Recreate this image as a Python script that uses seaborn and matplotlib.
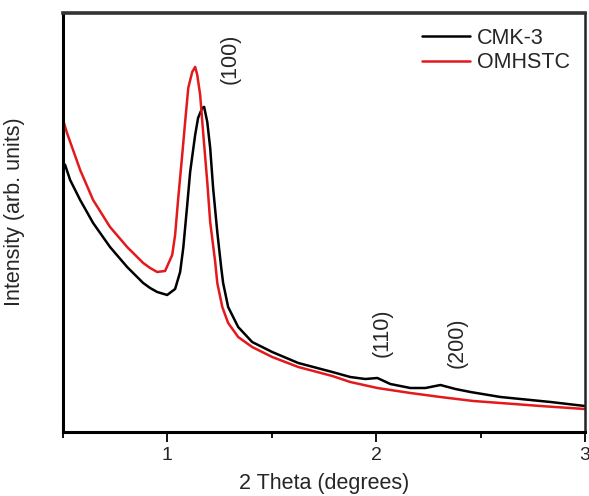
import numpy as np
import pandas as pd
import matplotlib
matplotlib.use("Agg")
import matplotlib.pyplot as plt
import seaborn as sns

# 2 Theta (degrees) and intensity (arb. units)
cmk3_x = [0.50, 0.510, 0.534, 0.582, 0.644, 0.725, 0.807, 0.884, 0.917, 0.951,
          0.999, 1.037, 1.061, 1.076, 1.095, 1.109, 1.133, 1.147, 1.167, 1.176,
          1.191, 1.205, 1.219, 1.239, 1.258, 1.267, 1.291, 1.339, 1.406, 1.502,
          1.627, 1.790, 1.876, 1.948, 2.006, 2.068, 2.164, 2.236, 2.308, 2.380,
          2.452, 2.596, 2.836, 3.0]
cmk3_y = [269, 267, 252, 232, 209, 185, 165, 149, 144, 140,
          137, 143, 160, 184, 227, 260, 297, 314, 324, 325,
          310, 284, 244, 200, 164, 149, 125, 105, 90, 80,
          69, 60, 55, 53, 54, 48, 44, 44, 47, 43,
          40, 35, 30, 26]

omhstc_x = [0.50, 0.519, 0.582, 0.644, 0.725, 0.807, 0.884, 0.917, 0.951, 0.989,
            1.023, 1.037, 1.052, 1.071, 1.085, 1.100, 1.119, 1.133, 1.143, 1.157,
            1.171, 1.191, 1.205, 1.229, 1.239, 1.263, 1.291, 1.339, 1.406, 1.502,
            1.627, 1.790, 1.876, 2.006, 2.164, 2.308, 2.466, 2.596, 2.788, 3.0]
omhstc_y = [312, 299, 262, 232, 205, 185, 169, 164, 160, 161,
            177, 197, 234, 277, 310, 344, 360, 365, 357, 337,
            300, 250, 210, 170, 149, 125, 109, 95, 85, 75,
            65, 56, 50, 44, 39, 35, 31, 29, 26, 23]

peak_labels = ["(100)", "(110)", "(200)"]
peak_x = [1.30, 2.03, 2.39]
peak_y = [373, 99, 89]

df = pd.concat([
    pd.DataFrame({"theta": cmk3_x, "intensity": cmk3_y, "sample": "CMK-3"}),
    pd.DataFrame({"theta": omhstc_x, "intensity": omhstc_y, "sample": "OMHSTC"}),
])

sns.set_style("white")
plt.rcParams['font.family'] = ['Liberation Sans', 'DejaVu Sans']

fig = plt.figure(figsize=(5.89, 4.96), dpi=100)
ax = fig.add_axes([0.107, 0.129, 0.886, 0.845])

sns.lineplot(data=df, x="theta", y="intensity", hue="sample",
             palette={"CMK-3": "#000000", "OMHSTC": "#e3191c"},
             linewidth=1.8, ax=ax, sort=True, estimator=None)

ax.set_xlim(0.5, 3.0)
ax.set_ylim(0, 419)
ax.set_xticks([1, 2, 3])
ax.set_xticklabels(["1", "2", "3"])
ax.set_xticks([0.5, 1.5, 2.5], minor=True)
ax.set_yticks([])
ax.tick_params(axis='x', which='major', direction='out', length=7, width=1.3,
               labelsize=14, pad=4, bottom=True, color='black')
ax.tick_params(axis='x', which='minor', direction='out', length=4.5, width=1.3,
               bottom=True, color='black')

for side in ["left", "bottom"]:
    ax.spines[side].set_color("black")
    ax.spines[side].set_linewidth(2.2)
ax.spines["top"].set_color("#333333")
ax.spines["top"].set_linewidth(2.6)
ax.spines["right"].set_color("#222222")
ax.spines["right"].set_linewidth(1.8)

ax.set_xlabel("2 Theta (degrees)", fontsize=15.5)
ax.xaxis.set_label_coords(0.5, -0.097)
ax.set_ylabel("Intensity (arb. units)", fontsize=15.5)
ax.yaxis.set_label_coords(-0.072, 0.525)

for lbl, px, py in zip(peak_labels, peak_x, peak_y):
    ax.text(px, py, lbl, rotation=90, ha='center', va='center', fontsize=15.5)

leg = ax.legend(loc='upper right', frameon=False, fontsize=15.5,
                handlelength=2.25, handletextpad=0.3, labelspacing=0.15,
                bbox_to_anchor=(1.0, 1.0), borderaxespad=0.3)
for line in leg.get_lines():
    line.set_linewidth(1.8)

fig.savefig("out.png", dpi=100)
